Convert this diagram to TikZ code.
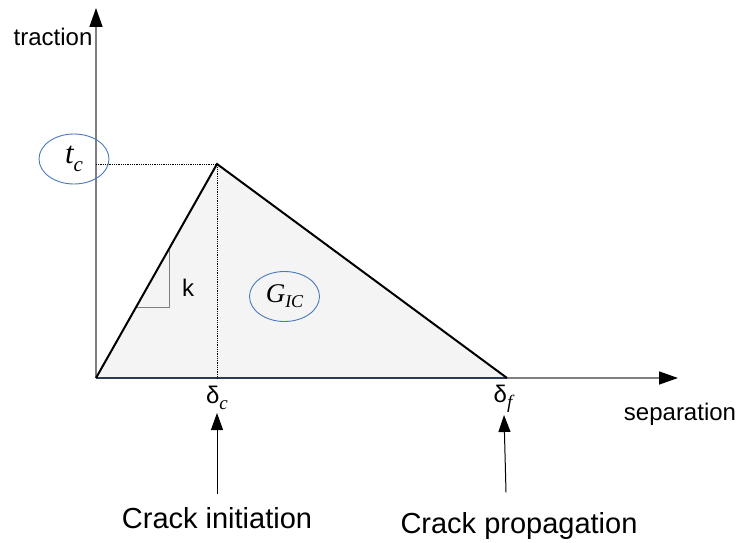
\documentclass[tikz,border=0pt]{standalone}
\usepackage{fontspec}
\setmainfont{Liberation Sans}
\newfontfamily\lserif{Liberation Serif}
\usetikzlibrary{arrows.meta, shapes.geometric}
\definecolor{axisgray}{HTML}{7F7F7F}
\definecolor{ellblue}{HTML}{4A78BA}
\definecolor{areagray}{HTML}{F4F4F4}
\definecolor{basenavy}{HTML}{2B3A55}
\tikzset{
  axis/.style={draw=axisgray, line width=1.5pt, -{Triangle[length=19pt,width=13pt,color=black]}},
  curve/.style={draw=black, line width=2pt, line join=miter},
  guide/.style={densely dotted, line width=0.8pt},
  pointer/.style={line width=1pt, -{Triangle[length=17pt,width=12pt]}},
  tag/.style={ellipse, draw=ellblue, line width=0.9pt, minimum width=70pt, minimum height=50pt, inner sep=0pt},
  lbl/.style={inner sep=0pt, font=\fontsize{24}{28}\selectfont},
  biglbl/.style={inner sep=0pt, font=\fontsize{29}{34}\selectfont},
}
\newcommand{\delsub}[1]{δ\raisebox{-6pt}{\lserif\itshape\fontsize{19}{19}\selectfont #1}}
\begin{document}
\begin{tikzpicture}[x=1pt, y=-1pt]
    \useasboundingbox (0,0) rectangle (739,543);

    % Corner points of the traction-separation law
    \coordinate (O) at (96,378);
    \coordinate (P) at (217,164);
    \coordinate (F) at (507,378);
    \coordinate (ytip) at (96,8);
    \coordinate (xtip) at (678,378);
    \coordinate (tcaxis) at (96,164);
    \coordinate (dcaxis) at (217,378);

    % Shaded area under the curve
    \fill[areagray] (O) -- (P) -- (F) -- cycle;

    % Axes
    \draw[axis] (O) -- (ytip);
    \draw[axis] (O) -- (xtip);
    \draw[basenavy, line width=1.2pt] (O) -- (F);

    % Dotted guides from the peak
    \draw[guide] (tcaxis) -- (P) -- (dcaxis);

    % Slope triangle for the stiffness
    \coordinate (k1) at (136,307);
    \coordinate (k2) at (169.5,307);
    \coordinate (k3) at (169.5,248);
    \draw[axisgray, line width=1pt] (k1) -- (k2) -- (k3);

    % Bilinear curve
    \draw[curve] (O) -- (P) -- (F);

    % Axis labels
    \node[lbl] (trac) at (53,37) {traction};
    \node[lbl] (sep) at (680,414) {separation};
    \node[lbl] (k) at (188,288) {k};

    % Circled quantities
    \node[tag] (tc) at (74,159) {\lserif\itshape\fontsize{31}{31}\selectfont t\raisebox{-8pt}{\fontsize{21}{21}\selectfont c}};
    \node[tag] (gic) at (284.5,296.5) {\lserif\itshape\fontsize{27}{27}\selectfont G\raisebox{-5pt}{\fontsize{18}{18}\selectfont IC}};

    % Separation marks
    \node[lbl] (dc) at (217,398) {\delsub{c}};
    \node[lbl] (df) at (503,399) {\delsub{f}};

    % Crack stages
    \node[biglbl] (init) at (217,518) {Crack initiation};
    \node[biglbl] (prop) at (519,526) {Crack propagation};
    \draw[pointer] (init.north) ++(0,-13) coordinate (initfoot) -- (217,413);
    \draw[pointer] (prop.north) ++(-13,-20) coordinate (propfoot) -- (504,415);

\end{tikzpicture}
\end{document}
